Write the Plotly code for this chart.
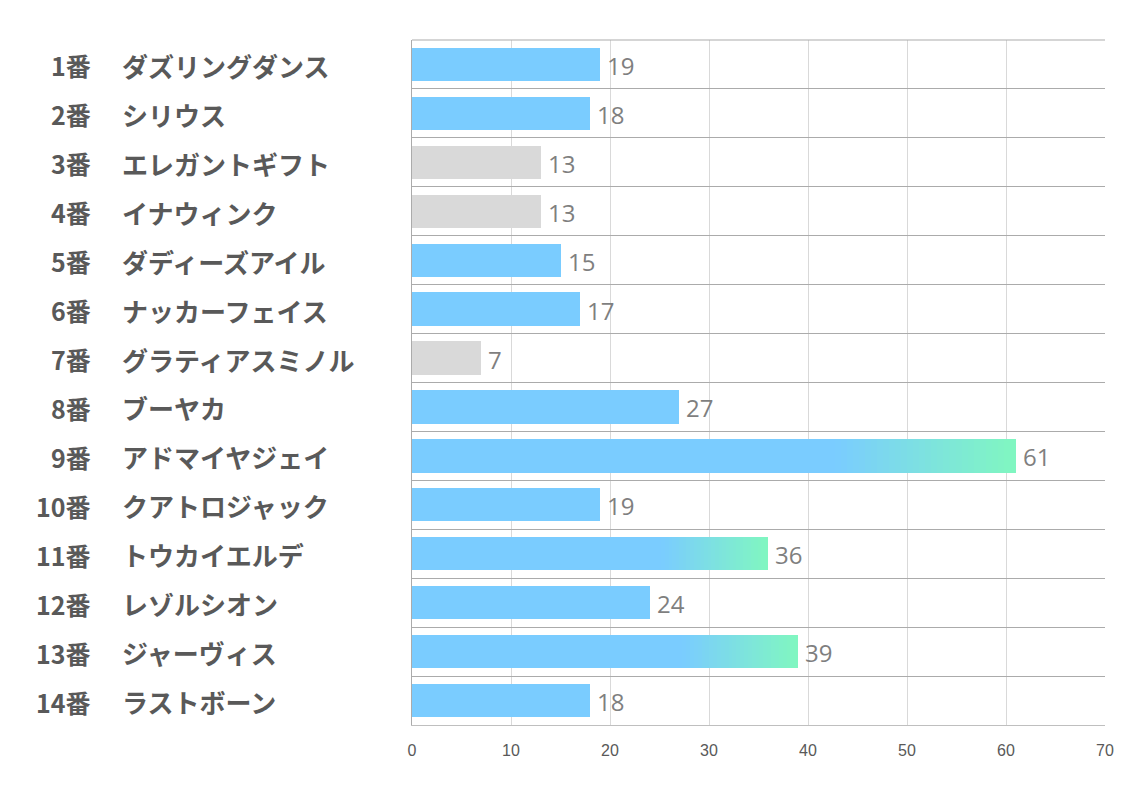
import plotly.graph_objects as go

# データ
numbers = ["1番", "2番", "3番", "4番", "5番", "6番", "7番", "8番", "9番", "10番", "11番", "12番", "13番", "14番"]
names = ["ダズリングダンス", "シリウス", "エレガントギフト", "イナウィンク", "ダディーズアイル",
         "ナッカーフェイス", "グラティアスミノル", "ブーヤカ", "アドマイヤジェイ", "クアトロジャック",
         "トウカイエルデ", "レゾルシオン", "ジャーヴィス", "ラストボーン"]
values = [19, 18, 13, 13, 15, 17, 7, 27, 61, 19, 36, 24, 39, 18]
grey_bars = [3, 4, 7]          # 馬番 (灰色で表示)
gradient_bars = [9, 11, 13]    # 馬番 (グラデーション)
x_ticks = [0, 10, 20, 30, 40, 50, 60, 70]

azul = (122, 204, 255)
verde = (128, 247, 192)
gris = "#D9D9D9"

ypos = list(range(len(names)))
horse_no = [i + 1 for i in ypos]

# グラデーションの開始位置 (バー長さに対する割合)
frac = 0.7
n_seg = 30

base_x = []
base_colors = []
for no, v in zip(horse_no, values):
    if no in gradient_bars:
        base_x.append(v * frac)
    else:
        base_x.append(v)
    base_colors.append(gris if no in grey_bars else "rgb(%d,%d,%d)" % azul)

fig = go.Figure()

fig.add_trace(go.Bar(x=base_x, y=ypos, orientation="h", width=0.68,
                     marker=dict(color=base_colors, line=dict(width=0)),
                     hoverinfo="skip", showlegend=False))

for k in range(n_seg):
    t = (k + 0.5) / n_seg
    c = tuple(int(round(a + (b - a) * t)) for a, b in zip(azul, verde))
    seg_x = [v * (1 - frac) / n_seg if no in gradient_bars else 0
             for no, v in zip(horse_no, values)]
    fig.add_trace(go.Bar(x=seg_x, y=ypos, orientation="h", width=0.68,
                         marker=dict(color="rgb(%d,%d,%d)" % c, line=dict(width=0)),
                         hoverinfo="skip", showlegend=False))

# 数値ラベル
for i, v in zip(ypos, values):
    fig.add_annotation(x=v, y=i, xref="x", yref="y", text=str(v), showarrow=False,
                       xanchor="left", xshift=5, yshift=-1,
                       font=dict(family="Open Sans, sans-serif", size=24, color="#7F7F7F"))

# 馬番と馬名
W_PLOT = 1126 - 404 - 29
for i in ypos:
    fig.add_annotation(x=(85 - 404) / W_PLOT, y=i, xref="paper", yref="y",
                       text="<b>%s</b>" % numbers[i], showarrow=False, xanchor="right", yshift=-1,
                       font=dict(family="Noto Sans CJK JP", size=25, color="#595959"))
    fig.add_annotation(x=(112 - 404) / W_PLOT, y=i, xref="paper", yref="y",
                       text="<b>%s</b>" % names[i], showarrow=False, xanchor="left", yshift=-1,
                       font=dict(family="Noto Sans CJK JP", size=26, color="#595959"))

fig.update_layout(
    width=1126, height=785,
    barmode="stack", bargap=0,
    plot_bgcolor="white", paper_bgcolor="white",
    margin=dict(l=404, r=29, t=32, b=68),
    xaxis=dict(range=[0, 70], tickvals=x_ticks, showgrid=True, gridcolor="#D9D9D9",
               gridwidth=1, zeroline=False, showline=True, linecolor="#BFBFBF",
               ticks="outside", ticklen=11, tickcolor="rgba(0,0,0,0)",
               tickfont=dict(family="Liberation Sans Narrow, sans-serif", size=16, color="#595959")),
    yaxis=dict(range=[len(names) - 0.5, -0.5], tick0=-0.5, dtick=1, showticklabels=False,
               showgrid=True, gridcolor="#ABABAB", gridwidth=1, zeroline=False,
               showline=True, linecolor="#ABABAB", mirror=False),
)

# 上端の線
fig.add_shape(type="line", xref="paper", yref="paper", x0=0, x1=1, y0=1, y1=1,
              line=dict(color="#ABABAB", width=1))

fig.write_html("out.html")
